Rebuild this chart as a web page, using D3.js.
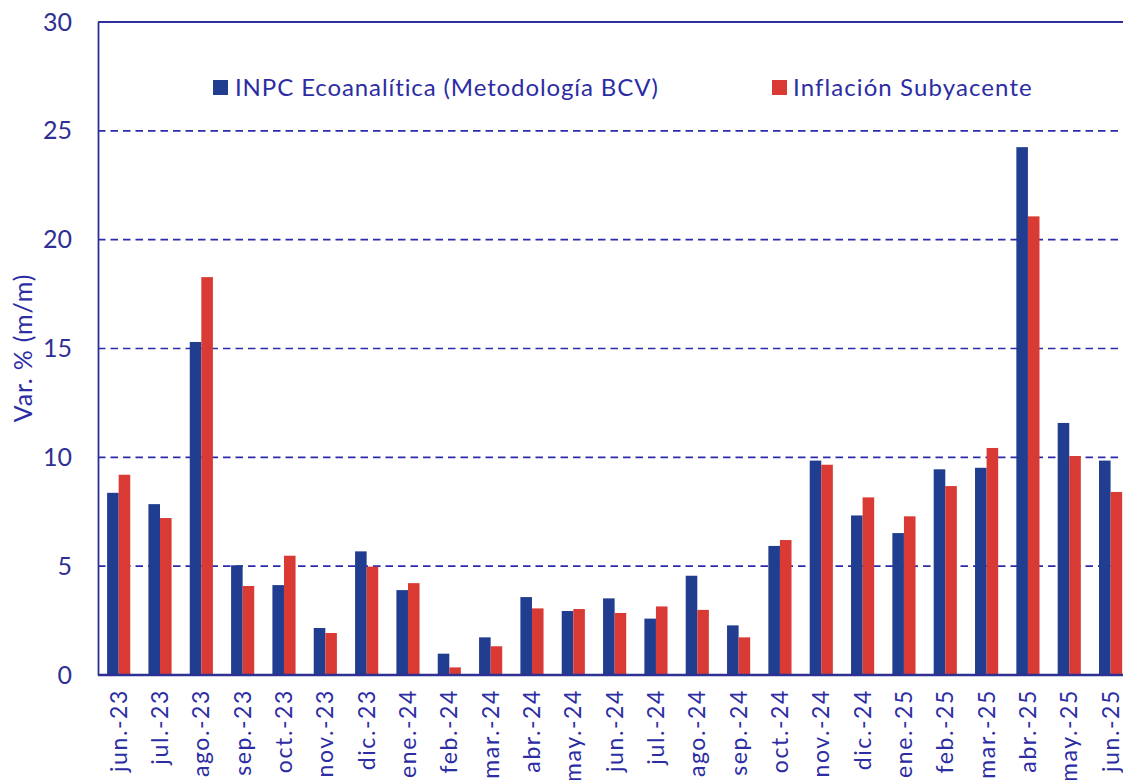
<!DOCTYPE html>
<html>
<head>
<meta charset="utf-8">
<script src="https://cdn.jsdelivr.net/npm/d3@7"></script>
<style>
  html, body { margin: 0; padding: 0; background: #ffffff; }
  svg { display: block; }
  text { font-family: Lato, "Noto Sans", sans-serif; fill: #2c2ca3; }
</style>
</head>
<body>
<svg id="chart" width="1123" height="780"></svg>
<script>
const categories = ["jun.-23","jul.-23","ago.-23","sep.-23","oct.-23","nov.-23","dic.-23","ene.-24","feb.-24","mar.-24","abr.-24","may.-24","jun.-24","jul.-24","ago.-24","sep.-24","oct.-24","nov.-24","dic.-24","ene.-25","feb.-25","mar.-25","abr.-25","may.-25","jun.-25"];
const inpcValues = [8.37, 7.85, 15.30, 5.04, 4.13, 2.16, 5.68, 3.90, 0.98, 1.73, 3.58, 2.94, 3.52, 2.59, 4.56, 2.28, 5.93, 9.85, 7.33, 6.52, 9.45, 9.52, 24.25, 11.58, 9.85];
const subyValues = [9.20, 7.21, 18.28, 4.09, 5.48, 1.93, 4.98, 4.22, 0.35, 1.32, 3.06, 3.03, 2.85, 3.15, 2.99, 1.73, 6.20, 9.66, 8.16, 7.29, 8.68, 10.43, 21.07, 10.06, 8.41];
const seriesNames = ["INPC Ecoanalítica (Metodología BCV)", "Inflación Subyacente"];
const seriesColors = ["#213d8f", "#d93a34"];
const yTicks = [0, 5, 10, 15, 20, 25, 30];
const yTitle = "Var. % (m/m)";

const svg = d3.select("#chart");
const mLeft = 98, mTop = 22, mBottom = 675, mRight = 98 + 25 * 41.33;

const x0 = d3.scaleBand().domain(categories).range([mLeft, mRight]).paddingInner(0.44).paddingOuter(0.22);
const x1 = d3.scaleBand().domain([0, 1]).range([0, x0.bandwidth()]).padding(0);
const y = d3.scaleLinear().domain([0, 30]).range([mBottom, mTop]);

// gridlines
const gridVals = yTicks.filter(v => v > 0 && v < 30);
svg.append("g").selectAll("line").data(gridVals).join("line")
  .attr("x1", mLeft).attr("x2", 1123)
  .attr("y1", d => y(d)).attr("y2", d => y(d))
  .attr("stroke", "#2b2bab").attr("stroke-width", 1.6)
  .attr("stroke-dasharray", "7.5,5");
// top line
svg.append("line").attr("x1", mLeft).attr("x2", 1123).attr("y1", y(30)).attr("y2", y(30))
  .attr("stroke", "#30309c").attr("stroke-width", 1.8);

// bars
const data = categories.map((c, i) => ({ c, vals: [inpcValues[i], subyValues[i]] }));
const groups = svg.append("g").selectAll("g").data(data).join("g")
  .attr("transform", d => `translate(${x0(d.c)},0)`);
groups.selectAll("rect").data(d => d.vals.map((v, k) => ({ v, k }))).join("rect")
  .attr("x", d => x1(d.k)).attr("width", x1.bandwidth())
  .attr("y", d => y(d.v)).attr("height", d => y(0) - y(d.v))
  .attr("fill", d => seriesColors[d.k]);

// y axis
const yAxis = svg.append("g").attr("transform", `translate(${mLeft},0)`)
  .call(d3.axisLeft(y).tickValues(yTicks).tickSize(0).tickPadding(26));
yAxis.select(".domain").attr("stroke", "#2e3192").attr("stroke-width", 1.8);
yAxis.selectAll("text").style("font-size", "25px").style("fill", "#2f2f95");

// x axis
const xAxis = svg.append("g").attr("transform", `translate(0,${mBottom})`)
  .call(d3.axisBottom(x0).tickSize(0));
xAxis.select(".domain").attr("stroke", "#2e3192").attr("stroke-width", 2.6)
  .attr("d", `M${mLeft},0H1123`);
xAxis.selectAll(".tick text")
  .style("font-size", "23px")
  .style("letter-spacing", "1.6px")
  .attr("text-anchor", "end")
  .attr("transform", "rotate(-90)")
  .attr("x", -14).attr("y", 0).attr("dy", "0.35em");

// y title
svg.append("text")
  .attr("transform", `translate(32,348) rotate(-90)`)
  .attr("text-anchor", "middle")
  .style("font-size", "25px")
  .style("letter-spacing", "0.8px")
  .text(yTitle);

// legend
const legendPos = [[213, 235], [772, 793]];
seriesNames.forEach((name, k) => {
  svg.append("rect").attr("x", legendPos[k][0]).attr("y", 80).attr("width", 15).attr("height", 15)
    .attr("fill", seriesColors[k]);
  svg.append("text").attr("x", legendPos[k][1]).attr("y", 96)
    .style("font-size", "24px")
    .style("letter-spacing", k === 0 ? "0.9px" : "1.1px")
    .text(name);
});
</script>
</body>
</html>
